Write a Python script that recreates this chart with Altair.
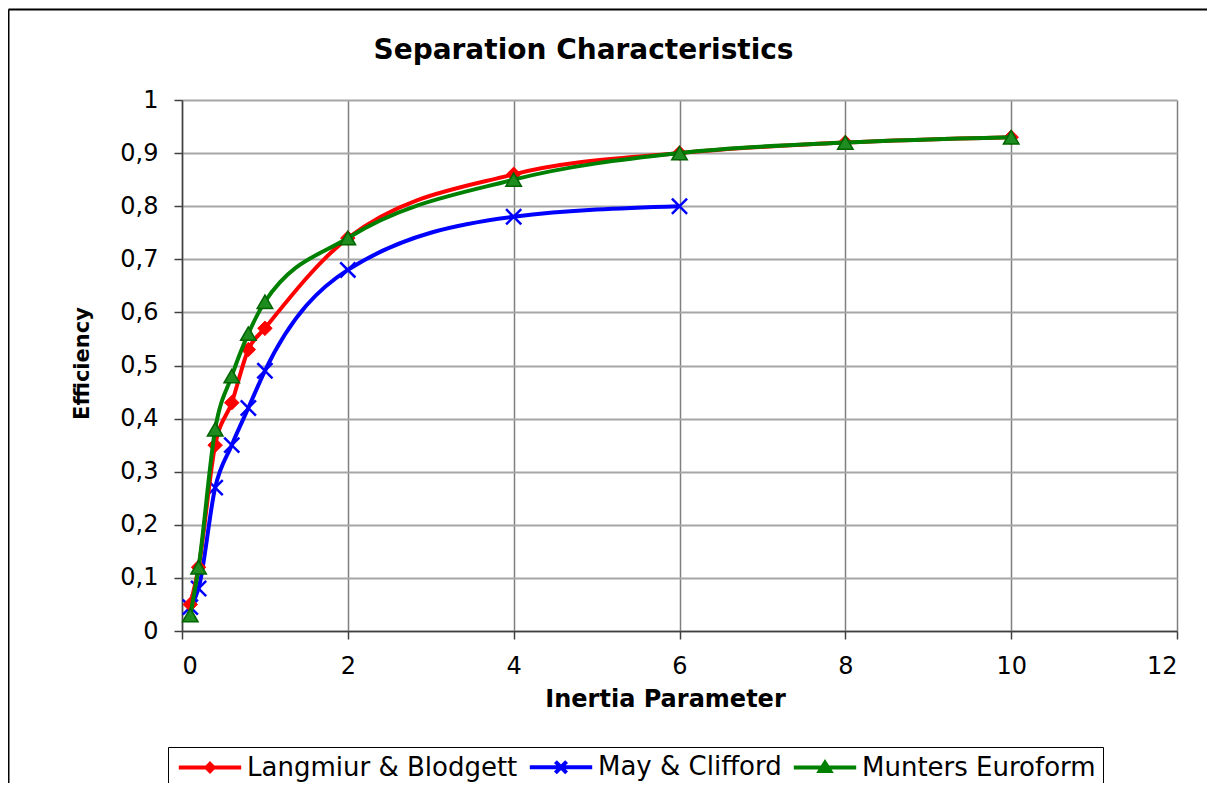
import altair as alt
import pandas as pd

# ---- data ----
series_names = ["Langmiur & Blodgett", "May & Clifford", "Munters Euroform"]
series_colors = ["#FF0000", "#0000FF", "#008000"]
marker_fills = ["#FF0000", "#0000FF", "#1e8c1e"]

x_langmuir = [0.1, 0.2, 0.4, 0.6, 0.8, 1.0, 2, 4, 6, 8, 10]
y_langmuir = [0.05, 0.12, 0.35, 0.43, 0.53, 0.57, 0.74, 0.86, 0.90, 0.92, 0.93]

x_may = [0.1, 0.2, 0.4, 0.6, 0.8, 1.0, 2, 4, 6]
y_may = [0.045, 0.08, 0.27, 0.35, 0.42, 0.49, 0.68, 0.78, 0.80]

x_munters = [0.1, 0.2, 0.4, 0.6, 0.8, 1.0, 2, 4, 6, 8, 10]
y_munters = [0.03, 0.12, 0.38, 0.48, 0.56, 0.62, 0.74, 0.85, 0.90, 0.92, 0.93]

x_ticks = [0, 2, 4, 6, 8, 10, 12]
y_ticks = [0, 0.1, 0.2, 0.3, 0.4, 0.5, 0.6, 0.7, 0.8, 0.9, 1.0]

rows = []
for name, xs, ys in [(series_names[0], x_langmuir, y_langmuir),
                     (series_names[1], x_may, y_may),
                     (series_names[2], x_munters, y_munters)]:
    for a, b in zip(xs, ys):
        rows.append({"series": name, "x": a, "y": b})
df = pd.DataFrame(rows)

FONT = "DejaVu Sans"

# legend symbol paths (line + marker), unit = sqrt(size)/2
LINE = "M-3.9,0L3.9,0"
legend_shapes = [
    LINE + "M0,-0.45L0.45,0L0,0.45L-0.45,0Z",
    LINE + "M-0.7,-0.7L0.7,0.7M-0.7,0.7L0.7,-0.7",
    LINE + "M0,-0.6L0.65,0.45L-0.65,0.45Z",
]

legend = alt.Legend(
    orient="none", legendX=-14, legendY=647, direction="horizontal", title=None,
    symbolSize=256, symbolOffset=22, labelOffset=24, symbolStrokeWidth=4,
    labelFont=FONT, labelFontSize=26, labelColor="black", labelLimit=500,
    padding=7, strokeColor="black", fillColor="white", columnPadding=3,
)

x_enc = alt.X("x:Q", scale=alt.Scale(domain=[0, 12], nice=False, zero=False),
              axis=alt.Axis(values=x_ticks, title="Inertia Parameter", titleFontSize=24,
                            titleX=483, titleY=75, titleBaseline="alphabetic", titleAlign="center",
                            gridColor="#7f7f7f", gridWidth=1.5, labelPadding=15))
y_enc = alt.Y("y:Q", scale=alt.Scale(domain=[0, 1], nice=False),
              axis=alt.Axis(values=y_ticks, title="Efficiency", titleFontSize=21,
                            titleX=-94, titleY=263, titleBaseline="alphabetic", titleAlign="center",
                            titleAngle=270,
                            labelExpr="replace(format(datum.value, '.1~f'), '.', ',')",
                            gridColor="#a6a6a6", gridWidth=2, labelPadding=16))

base = alt.Chart(df)

def series_layers(name, color, point_kwargs):
    sub = base.transform_filter(alt.datum.series == name)
    line = sub.mark_line(interpolate="monotone", strokeWidth=4, color=color).encode(x=x_enc, y=y_enc)
    pts = sub.mark_point(opacity=1, **point_kwargs).encode(x=x_enc, y=y_enc)
    return [line, pts]

layers = []
layers += series_layers(series_names[1], series_colors[1],
                        dict(shape="M-1,-1L1,1M-1,1L1,-1", filled=False, stroke=series_colors[1], strokeWidth=2.5, size=230))
layers += series_layers(series_names[0], series_colors[0],
                        dict(shape="diamond", filled=True, fill=series_colors[0], stroke=series_colors[0], strokeWidth=1, size=210))
layers += series_layers(series_names[2], series_colors[2],
                        dict(shape="triangle-up", filled=True, fill=marker_fills[2], stroke="#006400", strokeWidth=1.5, size=240))

# legend-only layer (no rows drawn): line + marker symbols per series
legend_layer = base.transform_filter("datum.y > 100").mark_point(filled=True, opacity=1).encode(
    x=x_enc, y=y_enc,
    shape=alt.Shape("series:N", scale=alt.Scale(domain=series_names, range=legend_shapes), legend=legend),
    fill=alt.Fill("series:N", scale=alt.Scale(domain=series_names, range=marker_fills), legend=legend),
    stroke=alt.Stroke("series:N", scale=alt.Scale(domain=series_names, range=series_colors), legend=legend),
)

# outer chart frame (top and left edges, as in the reference)
frame_src = alt.Chart(pd.DataFrame({"f": [0]}))
frame_top = frame_src.mark_rule(color="black", strokeWidth=2).encode(
    x=alt.value(-173.5), x2=alt.value(1040), y=alt.value(-90.5), y2=alt.value(-90.5))
frame_left = frame_src.mark_rule(color="black", strokeWidth=2).encode(
    x=alt.value(-173.5), x2=alt.value(-173.5), y=alt.value(-90.5), y2=alt.value(683))

chart = alt.layer(frame_top, frame_left, *layers, legend_layer).properties(
    width=995, height=531,
    background="white",
    autosize=alt.AutoSizeParams(type="none"),
    padding={"left": 174, "top": 92, "right": 30, "bottom": 152},
    title=alt.TitleParams("Separation Characteristics", anchor="middle", frame="group", dx=-96,
                          offset=-78.5, baseline="alphabetic", font=FONT, fontSize=28,
                          fontWeight="bold", color="black"),
).configure_view(stroke=None).configure_axis(
    labelFont=FONT, labelFontSize=24, labelColor="black",
    titleFont=FONT, titleFontWeight="bold", titleColor="black",
    tickSize=8, tickColor="#404040", tickWidth=1.5,
    domainColor="#404040", domainWidth=1.5,
)

chart.save("out.html", embed_options={"renderer": "svg", "actions": False})
